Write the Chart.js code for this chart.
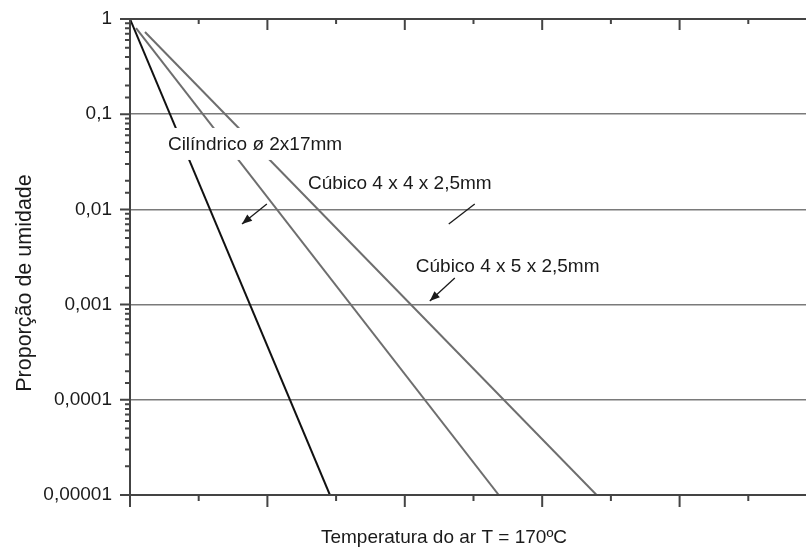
<!DOCTYPE html>
<html>
<head>
<meta charset="utf-8">
<script src="https://cdn.jsdelivr.net/npm/chart.js@4"></script>
<style>
  body { margin: 0; background: #fff; }
  #wrap { width: 806px; height: 547px; }
</style>
</head>
<body>
<div id="wrap"><canvas id="dryChart" width="806" height="547"></canvas></div>
<script>
// x has no labels in the original, units are major tick steps
const xMax = 4.92;
const xTickStep = 0.5;

const seriesNames = ["Cilíndrico ø 2x17mm", "Cúbico 4 x 4 x 2,5mm", "Cúbico 4 x 5 x 2,5mm"];
const cilindricoX = [0, 1.455];
const cilindricoY = [1, 0.00001];
const cubico44X = [0.044, 2.684];
const cubico44Y = [0.8, 0.00001];
const cubico45X = [0.109, 3.396];
const cubico45Y = [0.73, 0.00001];

const yTickValues = [1, 0.1, 0.01, 0.001, 0.0001, 0.00001];
const yTickLabels = ["1", "0,1", "0,01", "0,001", "0,0001", "0,00001"];

// labels and arrows, in data units
const labelX = [0.276, 1.295, 2.08];
const labelY = [0.0421, 0.01637, 0.0022];
const arrowFrom = [[0.996, 0.0114], [2.509, 0.0114], [2.364, 0.0019]];
const arrowTo = [[0.815, 0.00703], [2.32, 0.00703], [2.182, 0.00109]];
const arrowHead = [true, false, true];

const FONT = '"Liberation Sans", Arial, sans-serif';

function toPoints(xs, ys) {
  return xs.map((x, i) => ({ x: x, y: ys[i] }));
}

function isDecade(v) {
  const l = Math.log10(v);
  return Math.abs(l - Math.round(l)) < 1e-9;
}

const decorations = {
  id: "decorations",
  afterDatasetsDraw: (chart) => {
    const ctx = chart.ctx;
    const area = chart.chartArea;
    const xs = chart.scales.x;
    const ys = chart.scales.y;
    ctx.save();

    // axis frame (top, left, bottom)
    ctx.strokeStyle = "#444";
    ctx.lineWidth = 2;
    ctx.beginPath();
    ctx.moveTo(area.left, area.top);
    ctx.lineTo(area.right, area.top);
    ctx.moveTo(area.left, area.top - 1);
    ctx.lineTo(area.left, area.bottom + 1);
    ctx.moveTo(area.left, area.bottom);
    ctx.lineTo(area.right, area.bottom);
    ctx.stroke();

    // x ticks, outward at bottom and inward at top
    ctx.beginPath();
    for (let v = 0; v <= xMax + 1e-9; v += xTickStep) {
      const px = xs.getPixelForValue(v);
      const major = Math.abs(v - Math.round(v)) < 1e-9;
      ctx.moveTo(px, area.bottom);
      ctx.lineTo(px, area.bottom + (major ? 12 : 6));
      if (v > 0) {
        ctx.moveTo(px, area.top);
        ctx.lineTo(px, area.top + (major ? 11 : 5));
      }
    }
    // y ticks, outward on the left
    ys.ticks.forEach((t) => {
      const py = ys.getPixelForValue(t.value);
      const major = isDecade(t.value);
      ctx.moveTo(area.left, py);
      ctx.lineTo(area.left - (major ? 10 : 5), py);
    });
    ctx.stroke();

    // series labels
    ctx.font = "19px " + FONT;
    ctx.textBaseline = "alphabetic";
    ctx.textAlign = "left";
    seriesNames.forEach((name, i) => {
      const px = xs.getPixelForValue(labelX[i]);
      const py = ys.getPixelForValue(labelY[i]);
      if (i === 0) {
        const w = ctx.measureText(name).width;
        ctx.fillStyle = "#fff";
        ctx.fillRect(px - 6, py - 22, w + 12, 32);
      }
      ctx.fillStyle = "#1a1a1a";
      ctx.fillText(name, px, py);
    });

    // arrows
    ctx.strokeStyle = "#1a1a1a";
    ctx.fillStyle = "#1a1a1a";
    ctx.lineWidth = 1.3;
    arrowFrom.forEach((from, i) => {
      const x1 = xs.getPixelForValue(from[0]);
      const y1 = ys.getPixelForValue(from[1]);
      const x2 = xs.getPixelForValue(arrowTo[i][0]);
      const y2 = ys.getPixelForValue(arrowTo[i][1]);
      ctx.beginPath();
      ctx.moveTo(x1, y1);
      ctx.lineTo(x2, y2);
      ctx.stroke();
      if (arrowHead[i]) {
        const a = Math.atan2(y2 - y1, x2 - x1);
        const len = 10, half = 4;
        ctx.beginPath();
        ctx.moveTo(x2, y2);
        ctx.lineTo(x2 - len * Math.cos(a) + half * Math.sin(a), y2 - len * Math.sin(a) - half * Math.cos(a));
        ctx.lineTo(x2 - len * Math.cos(a) - half * Math.sin(a), y2 - len * Math.sin(a) + half * Math.cos(a));
        ctx.closePath();
        ctx.fill();
      }
    });

    // axis titles
    ctx.fillStyle = "#1a1a1a";
    ctx.font = "19px " + FONT;
    ctx.textAlign = "center";
    ctx.fillText("Temperatura do ar T = 170ºC", 444, 543);
    ctx.translate(31, 283);
    ctx.rotate(-Math.PI / 2);
    ctx.font = "21.5px " + FONT;
    ctx.fillText("Proporção de umidade", 0, 0);
    ctx.restore();
  },
};

const ctx = document.getElementById("dryChart").getContext("2d");
new Chart(ctx, {
  type: "line",
  data: {
    datasets: [
      {
        label: seriesNames[0],
        data: toPoints(cilindricoX, cilindricoY),
        borderColor: "#111",
        borderWidth: 2,
      },
      {
        label: seriesNames[1],
        data: toPoints(cubico44X, cubico44Y),
        borderColor: "#6e6e6e",
        borderWidth: 2,
      },
      {
        label: seriesNames[2],
        data: toPoints(cubico45X, cubico45Y),
        borderColor: "#6e6e6e",
        borderWidth: 2,
      },
    ],
  },
  options: {
    responsive: false,
    animation: false,
    elements: { point: { radius: 0 }, line: { tension: 0 } },
    layout: { padding: { top: 19, right: 0, left: 0, bottom: 0 } },
    plugins: { legend: { display: false }, tooltip: { enabled: false } },
    scales: {
      x: {
        type: "linear",
        min: 0,
        max: xMax,
        ticks: { display: false },
        grid: { display: false },
        border: { display: false },
        afterFit: (scale) => { scale.height = 52; },
      },
      y: {
        type: "logarithmic",
        min: 0.00001,
        max: 1,
        border: { display: false },
        grid: {
          drawTicks: false,
          lineWidth: 1.5,
          color: (c) => (c.tick && isDecade(c.tick.value) ? "#7a7a7a" : "rgba(0,0,0,0)"),
        },
        ticks: {
          autoSkip: false,
          padding: 18,
          color: "#1a1a1a",
          font: { family: FONT, size: 19 },
          callback: (value) => {
            const i = yTickValues.findIndex((v) => Math.abs(Math.log10(v) - Math.log10(value)) < 1e-9);
            return i >= 0 ? yTickLabels[i] : "";
          },
        },
        afterFit: (scale) => {
          scale.width = 130;
          scale.paddingTop = 0;
          scale.paddingBottom = 0;
        },
      },
    },
  },
  plugins: [decorations],
});
</script>
</body>
</html>
